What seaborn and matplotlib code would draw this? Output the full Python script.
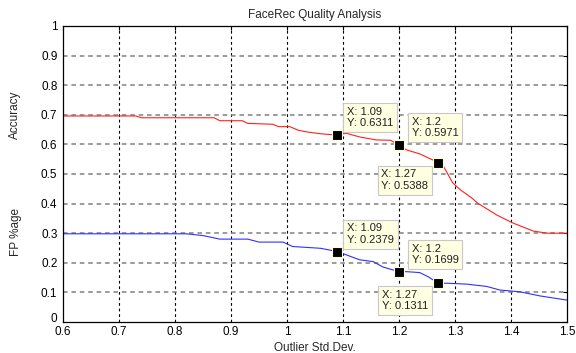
import matplotlib
matplotlib.use("Agg")
import matplotlib.pyplot as plt
import matplotlib.transforms as mtransforms
import pandas as pd
import seaborn as sns

# Accuracy curve (red)
acc_x = [0.6, 0.73, 0.74, 0.87, 0.88, 0.92, 0.93, 0.975, 0.985, 1.005, 1.02, 1.036,
         1.06, 1.09, 1.105, 1.13, 1.16, 1.185, 1.2, 1.214, 1.237, 1.27, 1.28,
         1.296, 1.31, 1.33, 1.34, 1.375, 1.404, 1.44, 1.465, 1.5]
acc_y = [0.696, 0.696, 0.690, 0.690, 0.680, 0.680, 0.671, 0.668, 0.660, 0.660, 0.648, 0.642,
         0.636, 0.6311, 0.638, 0.625, 0.615, 0.614, 0.5971, 0.581, 0.568, 0.5388, 0.524,
         0.470, 0.446, 0.419, 0.402, 0.361, 0.334, 0.307, 0.300, 0.300]

# FP %age curve (blue)
fp_x = [0.6, 0.82, 0.85, 0.88, 0.93, 0.95, 0.993, 1.01, 1.06, 1.09, 1.107, 1.13, 1.154,
        1.171, 1.2, 1.214, 1.237, 1.252, 1.27, 1.286, 1.321, 1.357, 1.38, 1.416, 1.452, 1.5]
fp_y = [0.298, 0.298, 0.292, 0.280, 0.280, 0.270, 0.270, 0.255, 0.249, 0.2379, 0.226, 0.210,
        0.204, 0.186, 0.1699, 0.170, 0.167, 0.153, 0.1311, 0.131, 0.128, 0.120, 0.108,
        0.102, 0.088, 0.074]

# data tips
tip_x = [1.09, 1.2, 1.27, 1.09, 1.2, 1.27]
tip_y = [0.6311, 0.5971, 0.5388, 0.2379, 0.1699, 0.1311]
tip_labels = ["X: 1.09\nY: 0.6311", "X: 1.2\nY: 0.5971", "X: 1.27\nY: 0.5388",
              "X: 1.09\nY: 0.2379", "X: 1.2\nY: 0.1699", "X: 1.27\nY: 0.1311"]
# (dx, dy, ha, va) in points
tip_place = [(7, 5, "left", "bottom"), (9, 5, "left", "bottom"), (-7, -5, "right", "top"),
             (7, 5, "left", "bottom"), (9, 5, "left", "bottom"), (-7, -5, "right", "top")]

x_ticks = [0.6, 0.7, 0.8, 0.9, 1.0, 1.1, 1.2, 1.3, 1.4, 1.5]
x_labels = ["0.6", "0.7", "0.8", "0.9", "1", "1.1", "1.2", "1.3", "1.4", "1.5"]
y_ticks = [0, 0.1, 0.2, 0.3, 0.4, 0.5, 0.6, 0.7, 0.8, 0.9, 1.0]
y_labels = ["0", "0.1", "0.2", "0.3", "0.4", "0.5", "0.6", "0.7", "0.8", "0.9", "1"]

sns.set_style("white")
plt.rcParams["font.family"] = ["Liberation Sans", "DejaVu Sans"]
plt.rcParams["font.size"] = 8

acc = pd.DataFrame({"x": acc_x, "y": acc_y})
fp = pd.DataFrame({"x": fp_x, "y": fp_y})

fig = plt.figure(figsize=(5.76, 3.53), dpi=100)
ax = fig.add_axes([63 / 576, 31 / 353, 504 / 576, 296 / 353])

ax.set_xlim(0.6, 1.5)
ax.set_ylim(0, 1)
ax.set_xticks(x_ticks)
ax.set_xticklabels(x_labels)
ax.set_yticks(y_ticks)
ax.set_yticklabels(y_labels)
ax.tick_params(direction="in", length=3, width=0.8, top=True, right=True,
               labelsize=8.5, colors="black")
ax.tick_params(axis="x", pad=3)
ax.tick_params(axis="y", pad=4)
# lift the "0" label a touch so it clears the first x label
zero_lab = ax.get_yticklabels()[0]
zero_lab.set_transform(zero_lab.get_transform() +
                       mtransforms.ScaledTranslation(0, 3 / 72, fig.dpi_scale_trans))
for x in x_ticks[1:-1]:
    ax.axvline(x, color="black", lw=0.8, ls=(0, (2.5, 2.5)), zorder=0)
for y in y_ticks[1:-1]:
    ax.axhline(y, color="#808080", lw=1.1, ls=(0, (3, 2.5)), zorder=0)
for s in ax.spines.values():
    s.set_color("black")
    s.set_linewidth(0.9)

sns.lineplot(data=acc, x="x", y="y", ax=ax, color="#ff2020", lw=0.8, estimator=None, sort=False)
sns.lineplot(data=fp, x="x", y="y", ax=ax, color="#3030ff", lw=0.8, estimator=None, sort=False)

ax.plot(tip_x, tip_y, ls="none", marker="s", markersize=6.5, color="black",
        markeredgecolor="#ffffd0", markeredgewidth=0.8, zorder=5)
for x, y, lab, (dx, dy, ha, va) in zip(tip_x, tip_y, tip_labels, tip_place):
    ax.annotate(lab, (x, y), xytext=(dx, dy), textcoords="offset points",
                ha=ha, va=va, multialignment="left", fontsize=8, color="#202020",
                linespacing=1.15,
                bbox=dict(boxstyle="square,pad=0.35", fc="#ffffe1", ec="#c8c8c8", lw=0.8),
                zorder=6)

ax.set_xlabel("Outlier Std.Dev.", fontsize=8.5, labelpad=3)
ax.set_ylabel("")
ax.set_title("FaceRec Quality Analysis", fontsize=8.5, pad=6)
fig.text(15 / 576, 1 - 115 / 353, "Accuracy", rotation=90, ha="center", va="center", fontsize=8.5)
fig.text(16 / 576, 1 - 232 / 353, "FP %age", rotation=90, ha="center", va="center", fontsize=8.5)

fig.savefig("out.png", dpi=100)
plt.close(fig)
